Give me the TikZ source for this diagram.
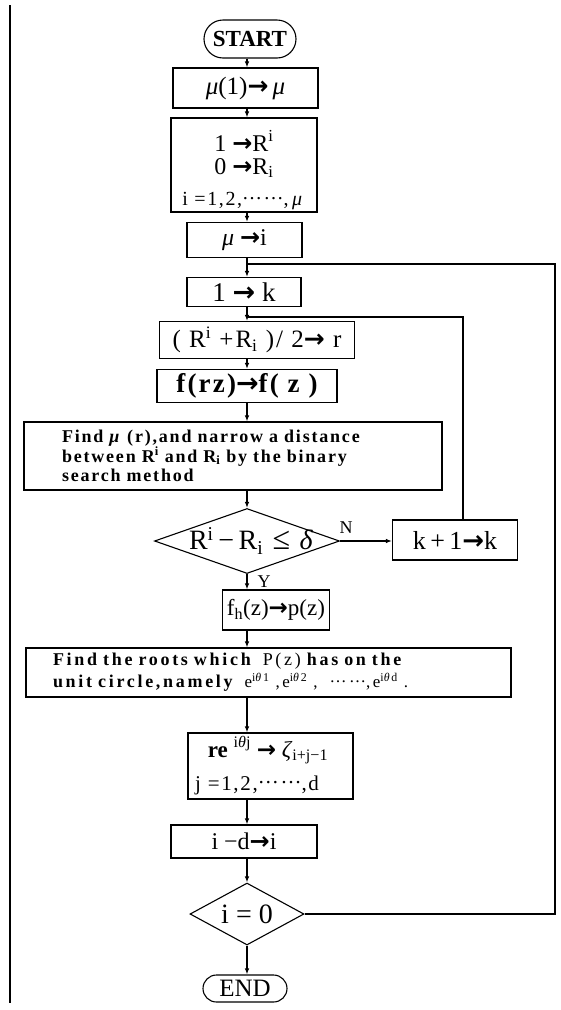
\documentclass[tikz,border=0pt]{standalone}
\usepackage{fontspec}
\setmainfont{Liberation Serif}
\newfontfamily\bodyfont[LetterSpace=10]{Liberation Serif}
\newfontfamily\bodyfontb[LetterSpace=15]{Liberation Serif}
\newfontfamily\wideform[LetterSpace=8]{Liberation Serif}
\newfontfamily\arrfont{DejaVu Sans}
\usetikzlibrary{shapes.geometric,arrows.meta}
\newcommand\fsz[1]{\fontsize{#1}{#1}\selectfont}
\newcommand\sps[1]{\textsuperscript{#1}}
\newcommand\sbs[1]{\textsubscript{#1}}
\newcommand\cdts{\raisebox{0.3em}{……}}
\newcommand\ar{{\arrfont\bfseries →}}
\begin{document}
\begin{tikzpicture}[x=1pt,y=-1pt,
  lw/.style={line width=1.1pt},
  proc/.style={draw,lw,inner sep=0pt,align=center},
  term/.style={draw,lw,inner sep=0pt},
  diam/.style={draw,lw,diamond,inner sep=0pt},
  conn/.style={lw,-{Latex[length=6pt,width=4.5pt]}},
  link/.style={lw},
  lbl/.style={inner sep=0pt,anchor=base}]
\useasboundingbox (0,0) rectangle (560,1010);
\coordinate (spine) at (247,0);
\coordinate (lt) at (10,5);
\coordinate (lb) at (10,1003);
\draw[line width=1.6pt] (lt) -- (lb);

\node[term,rounded corners=19pt,minimum width=92pt,minimum height=38pt,font=\bfseries\fsz{23}] (start) at (250,39) {START};
\node[proc,minimum width=145pt,minimum height=40pt,font=\fsz{25}] (mu1) at (245.5,88) {\textit{μ}(1)\ar\,\textit{μ}};
\node[proc,minimum width=146pt,minimum height=94pt] (init) at (244,165) {};
\node[lbl,font=\fsz{24}] (init1) at (244,151) {1 \ar R\sps{i}};
\node[lbl,font=\fsz{24}] (init2) at (244,174) {0 \ar R\sbs{i}};
\node[lbl,font=\wideform\fontsize{20}{20}\selectfont] (init3) at (243,205) {i =1,2,\cdts,\,\textit{μ}};
\node[proc,minimum width=115pt,minimum height=35pt,font=\fsz{24}] (mui) at (244.5,240) {\textit{μ} \ar i};
\node[proc,minimum width=114pt,minimum height=29pt,font=\fsz{27}] (onek) at (244,292) {1 \ar\ k};
\node[proc,minimum width=195pt,minimum height=37pt,font=\wideform\fontsize{25}{25}\selectfont] (half) at (257,340) {( R\sps{i} +R\sbs{i} )/ 2\ar\ r};
\node[proc,minimum width=180pt,minimum height=33pt,font=\wideform\bfseries\fontsize{27}{27}\selectfont] (frz) at (247,386) {f(rz)\ar f( z )};
\node[proc,minimum width=418pt,minimum height=68pt,text width=342pt,align=left,font=\bodyfont\bfseries\fontsize{18}{19.5}\selectfont] (find1) at (233,456) {Find \textit{μ} (r),and narrow a distance\\between R\sps{i} and R\sbs{i} by the binary\\search method};
\node[diam,minimum width=185pt,minimum height=65pt,font=\fsz{28}] (d1) at (247,541) {\makebox[0pt]{\hspace{8pt}R\sps{i}\,−\,R\sbs{i}\,\,{\fontsize{32}{32}\selectfont ≤}\,\,\textit{δ}}};
\node[proc,minimum width=125pt,minimum height=40pt,font=\fsz{26}] (kk) at (455,540) {k\,+\,1\ar k};
\node[lbl,font=\fsz{18}] (nlab) at (346,533) {N};
\node[lbl,font=\fsz{18}] (ylab) at (264,587) {Y};
\node[proc,minimum width=107pt,minimum height=40pt,font=\fsz{23}] (fh) at (276,610) {f\sbs{h}(z)\ar p(z)};
\node[proc,minimum width=485pt,minimum height=49pt,text width=431pt,align=left,font=\bodyfontb\bfseries\fontsize{18}{22}\selectfont] (find2) at (268.5,672.5) {Find the roots which \ {\mdseries P(z)} has on the\\unit circle,namely \ {\mdseries\fontsize{17}{22}\selectfont e\sps{i\textit{θ}1} ,e\sps{i\textit{θ}2} , \ \cdts,e\sps{i\textit{θ}d} .}};
\node[proc,minimum width=165pt,minimum height=66pt] (rej) at (270.5,766) {};
\node[lbl,font=\fsz{23}] (rej1) at (268,757) {\textbf{re} \sps{i\textit{θ}j} \ar\ \textit{ζ}\sbs{i+j−1}};
\node[lbl,font=\wideform\fontsize{21}{21}\selectfont] (rej2) at (257,790) {j =1,2,\cdts,d};
\node[proc,minimum width=146pt,minimum height=33pt,font=\fsz{24}] (imd) at (244,841.5) {i −d\ar i};
\node[diam,minimum width=114pt,minimum height=62pt,font=\fsz{28}] (d2) at (247,914) {\makebox[0pt]{i = 0}};
\node[term,rounded corners=13.5pt,minimum width=84pt,minimum height=27pt,font=\fsz{25}] (end) at (245,988.5) {END};

\coordinate (j1) at (247,264);
\coordinate (c1) at (555,264);
\coordinate (j2) at (247,317);
\coordinate (c2) at (463,317);

\draw[conn] (start.south -| spine) -- (mu1.north -| spine);
\draw[conn] (mu1.south -| spine) -- (init.north -| spine);
\draw[conn] (init.south -| spine) -- (mui.north -| spine);
\draw[conn] (mui.south -| spine) -- (onek.north -| spine);
\draw[conn] (onek.south -| spine) -- (half.north -| spine);
\draw[conn] (half.south -| spine) -- (frz.north -| spine);
\draw[conn] (frz.south -| spine) -- (find1.north -| spine);
\draw[conn] (find1.south -| spine) -- (d1.north);
\draw[conn] (d1.south) -- (fh.north -| spine);
\draw[conn] (fh.south -| spine) -- (find2.north -| spine);
\draw[conn] (find2.south -| spine) -- (rej.north -| spine);
\draw[conn] (rej.south -| spine) -- (imd.north -| spine);
\draw[conn] (imd.south -| spine) -- (d2.north);
\draw[conn] (d2.south) -- (end.north -| spine);
\draw[conn] (d1.east) -- (kk.west |- d1.east);
\draw[link] (kk.north -| c2) -- (c2) -- (j2);
\draw[link] (d2.east) -| (c1) -- (j1);
\end{tikzpicture}
\end{document}
